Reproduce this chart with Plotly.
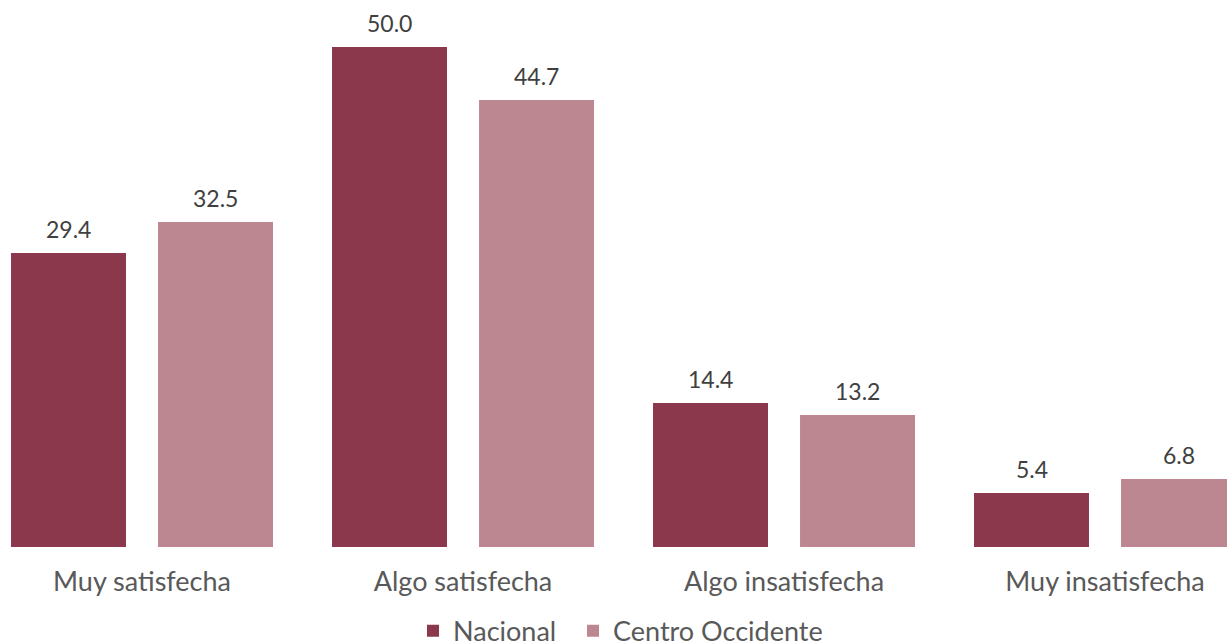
import plotly.graph_objects as go

categorias = ["Muy satisfecha", "Algo satisfecha", "Algo insatisfecha", "Muy insatisfecha"]
nacional = [29.4, 50.0, 14.4, 5.4]
centro_occidente = [32.5, 44.7, 13.2, 6.8]
series = ["Nacional", "Centro Occidente"]

color_nacional = "#8B374C"
color_centro = "#BC8791"
fuente = "Lato"

bargap = 0.084
bargroupgap = 0.218

fig = go.Figure()
fig.add_trace(go.Bar(
    x=categorias, y=nacional, name=series[0], legend="legend",
    marker=dict(color=color_nacional, line=dict(width=0)),
))
fig.add_trace(go.Bar(
    x=categorias, y=centro_occidente, name=series[1], legend="legend2",
    marker=dict(color=color_centro, line=dict(width=0)),
))

# value labels above each bar, centred on the bar's slot in the group
slot = (1 - bargap) / 2
for valores, desplazamiento in ((nacional, -slot / 2), (centro_occidente, slot / 2)):
    for i, v in enumerate(valores):
        fig.add_annotation(
            x=i + desplazamiento, y=v, xref="x", yref="y",
            text=f"{v:.1f}", showarrow=False,
            yanchor="bottom", yshift=8,
            font=dict(family=fuente, size=23, color="#404040"),
        )

estilo_leyenda = dict(
    orientation="h", xanchor="left",
    yref="container", y=0.02, yanchor="middle",
    font=dict(family=fuente, size=27, color="#595959"),
    itemwidth=30, bgcolor="rgba(0,0,0,0)",
)

fig.update_layout(
    width=1227, height=644,
    margin=dict(l=0, r=0, t=0, b=97, autoexpand=False),
    plot_bgcolor="white", paper_bgcolor="white",
    barmode="group", bargap=bargap, bargroupgap=bargroupgap,
    font=dict(family=fuente),
    showlegend=True,
    legend=dict(x=0.3366, **estilo_leyenda),
    legend2=dict(x=0.467, **estilo_leyenda),
    xaxis=dict(
        range=[-0.4424, 3.380], showgrid=False, zeroline=False, showline=False,
        tickfont=dict(family=fuente, size=27, color="#595959"),
        ticks="", ticklabelstandoff=16, automargin=False,
    ),
    yaxis=dict(range=[0, 54.7], visible=False, showgrid=False, zeroline=False),
)

fig.write_html("out.html")
